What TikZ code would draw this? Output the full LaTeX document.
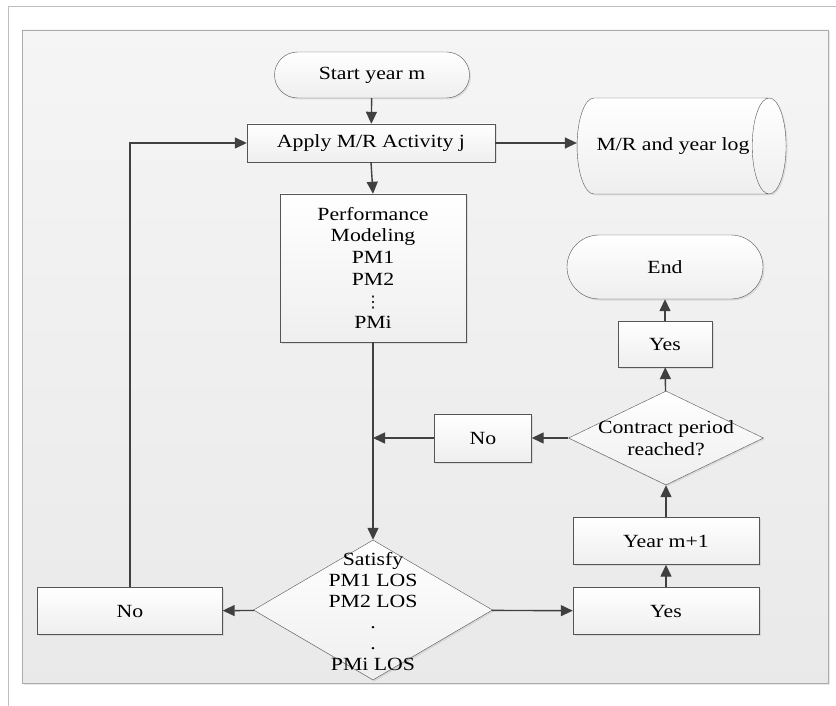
\documentclass[tikz,border=0pt]{standalone}
\usepackage{fontspec}
\setmainfont{Liberation Serif}[FakeStretch=1.17]
\newfontfamily\symfont{DejaVu Sans}
\usetikzlibrary{shapes.geometric,shapes.misc,arrows.meta,shadows}

\definecolor{linegray}{RGB}{64,64,64}
\definecolor{edgegray}{RGB}{85,85,85}

\begin{document}
\begin{tikzpicture}[x=1pt, y=-1pt,
  font=\fontsize{18.6}{21.7}\selectfont,
  shade/.style={drop shadow={opacity=0.18, shadow xshift=1.5pt, shadow yshift=-1.5pt}},
  box/.style={rectangle, draw=edgegray, top color=white, bottom color=gray!13, inner sep=0pt, align=center, shade},
  term/.style={box, rounded rectangle},
  decision/.style={box, diamond},
  store/.style={box, cylinder, shape aspect=2},
  arrow/.style={draw=linegray, line width=1.4pt, -{Triangle[length=12pt, width=11pt]}}]

% Page and panel
\useasboundingbox (0,0) rectangle (836,706);
\draw[gray!50] (8,706) -- (8,6) -- (836,6);
\path[draw=gray!65, top color=gray!8, bottom color=gray!17, shade] (22,30) rectangle (828,683);

% Main column
\node[term, minimum width=195pt, minimum height=46pt] (start) at (372,75) {Start year m};
\node[box, minimum width=248pt, minimum height=38pt] (apply) at (371,143) {Apply M/R Activity j};
\node[store, minimum width=96pt, minimum height=209pt] (log) at (673,146) {M/R and year log};
\node[box, minimum width=186pt, minimum height=148pt] (pm) at (373,268)
  {Performance\\Modeling\\PM1\\PM2\\{\symfont\fontsize{16}{21.7}\selectfont ⋮}\\PMi};
\node[decision, minimum width=239pt, minimum height=140pt] (sat) at (373,610) {};
\node[align=center, font=\fontsize{18.6}{21}\selectfont] (sattext) at (373,612)
  {Satisfy\\PM1 LOS\\PM2 LOS\\.\\.\\PMi LOS};

% Left branch
\node[box, minimum width=185pt, minimum height=47pt] (nosat) at (130,611) {No};

% Right column
\node[box, minimum width=186pt, minimum height=47pt] (yessat) at (666,611) {Yes};
\node[box, minimum width=186pt, minimum height=47pt] (next) at (666,541) {Year m+1};
\node[decision, minimum width=195pt, minimum height=94pt] (reach) at (666,438) {};
\node[align=center] (reachtext) at (reach.center) {Contract period\\reached?};
\node[box, minimum width=97pt, minimum height=48pt] (noend) at (483,438) {No};
\node[box, minimum width=94pt, minimum height=46pt] (yesend) at (665,344) {Yes};
\node[term, minimum width=196pt, minimum height=64pt] (end) at (665,267) {End};

% Connectors
\draw[arrow] (start) -- (apply);
\draw[arrow] (apply.east) -- (apply.east -| log.west);
\draw[arrow] (apply.south) -- (pm.north);
\draw[arrow] (pm) -- (sat);
\draw[arrow] (sat) -- (nosat);
\draw[arrow] (nosat) |- (apply);
\draw[arrow] (sat) -- (yessat);
\draw[arrow] (yessat) -- (next);
\draw[arrow] (next) -- (reach);
\draw[arrow] (reach) -- (noend);
\coordinate (merge) at (noend.west -| pm.south);
\draw[arrow] (noend) -- (merge);
\draw[arrow] (reach) -- (yesend);
\draw[arrow] (yesend) -- (end);

\end{tikzpicture}
\end{document}
